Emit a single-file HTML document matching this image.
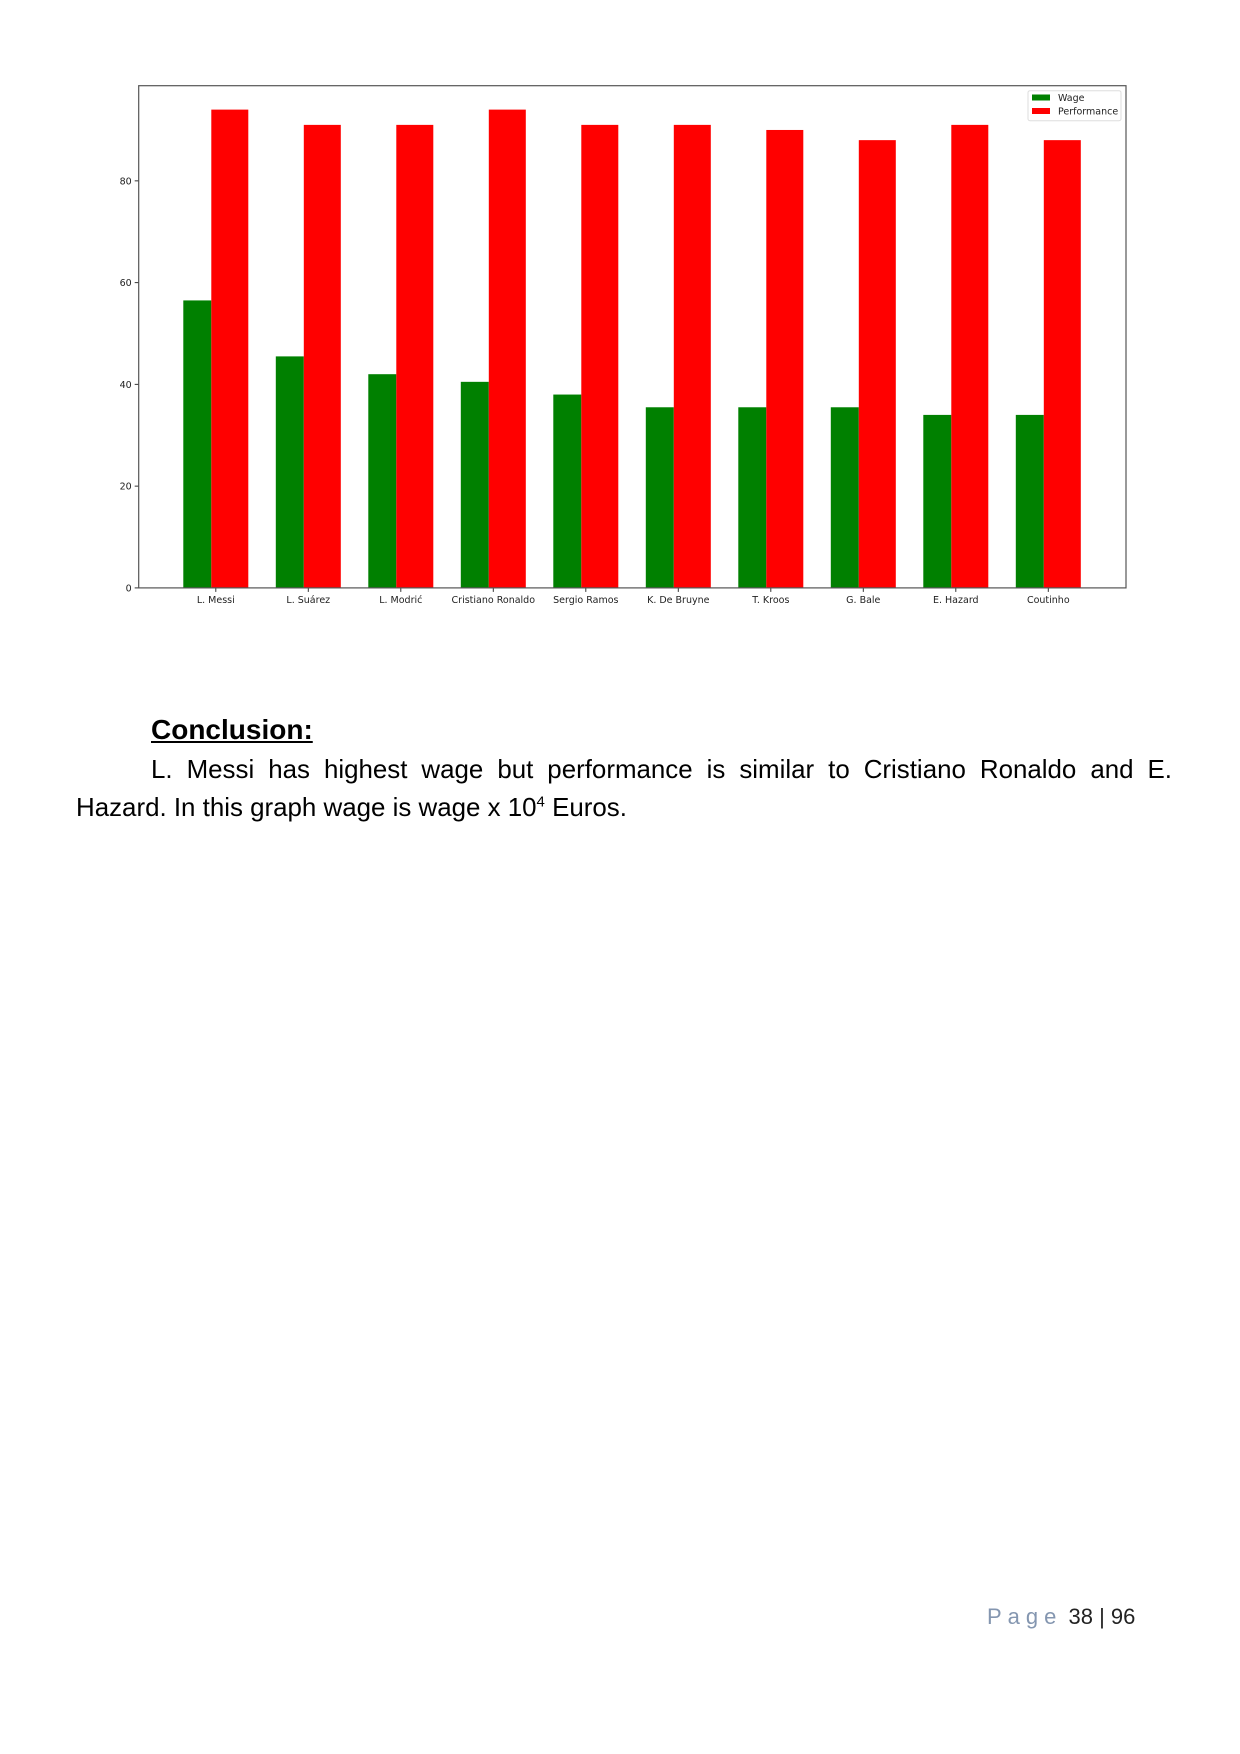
<!DOCTYPE html>
<html><head><meta charset="utf-8"><style>
html,body{margin:0;padding:0;background:#fff;}
body{width:1240px;height:1754px;position:relative;overflow:hidden;font-family:"Liberation Sans",sans-serif;}
#chart{position:absolute;left:0;top:0;}
.h{position:absolute;left:151px;top:714px;font-size:28px;font-weight:bold;text-decoration:underline;color:#000;margin:0;}
.p{position:absolute;left:76px;top:751px;width:1096px;font-size:25.9px;line-height:38px;color:#000;text-align:justify;text-indent:75px;margin:0;}
.pg{position:absolute;left:987px;top:1604px;font-size:22px;color:#222;}
.pg span{color:#8496b0;letter-spacing:6px;}
</style></head><body>
<svg id="chart" width="1240" height="640" xmlns="http://www.w3.org/2000/svg"></svg>
<h2 class="h">Conclusion:</h2>
<p class="p">L. Messi has highest wage but performance is similar to Cristiano Ronaldo and E. Hazard. In this graph wage is wage x 10<sup style="font-size:15px;line-height:0">4</sup> Euros.</p>
<div class="pg"><span>Page</span> 38 | 96</div>
<script>
const categories=["L. Messi","L. Suárez","L. Modrić","Cristiano Ronaldo","Sergio Ramos","K. De Bruyne","T. Kroos","G. Bale","E. Hazard","Coutinho"];
const wageValues=[56.5,45.5,42,40.5,38,35.5,35.5,35.5,34,34];
const performanceValues=[94,91,91,94,91,91,90,88,91,88];
const yTicks=[0,20,40,60,80];
const NS="http://www.w3.org/2000/svg";
const svg=document.getElementById('chart');
const L=138.7,R=1126,T=85.7,B=587.9,yMax=98.7;
const y=v=>B-(v/yMax)*(B-T);
const step=92.5,x0=211.3;
const x=i=>x0+i*step;
const gw=28,rw=37;
function mk(t,a){const e=document.createElementNS(NS,t);for(const k in a)e.setAttribute(k,a[k]);svg.appendChild(e);return e;}
categories.forEach((c,i)=>{
  const g=mk('rect',{x:x(i)-gw,y:y(wageValues[i]),width:gw,height:B-y(wageValues[i]),fill:'#008000'});
  
  
  const r=mk('rect',{x:x(i),y:y(performanceValues[i]),width:rw,height:B-y(performanceValues[i]),fill:'#ff0000'});
  
  
  const tx=x(i)+4.5;
  mk('line',{x1:tx,x2:tx,y1:B,y2:B+4,stroke:'#333','stroke-width':1});
  const t=mk('text',{x:tx,y:B+15,'text-anchor':'middle','font-size':9.5,fill:'#222','font-family':'DejaVu Sans, sans-serif'});
  t.textContent=c;
  
  
});
yTicks.forEach(v=>{
  mk('line',{x1:L-4,x2:L,y1:y(v),y2:y(v),stroke:'#333','stroke-width':1});
  const t=mk('text',{x:L-7,y:y(v)+3.5,'text-anchor':'end','font-size':9.5,fill:'#222','font-family':'DejaVu Sans, sans-serif'});
  t.textContent=v;
  
  
});
const frame=mk('rect',{x:L,y:T,width:R-L,height:B-T,fill:'none',stroke:'#555','stroke-width':1.2});


const lg=mk('rect',{x:1028,y:90.7,width:93,height:30,fill:'#fff',stroke:'#ddd','stroke-width':1,rx:2});


mk('rect',{x:1032,y:94.5,width:18,height:6,fill:'#008000'});
mk('rect',{x:1032,y:108,width:18,height:6,fill:'#ff0000'});
const l1=mk('text',{x:1058,y:101,'font-size':9.5,fill:'#222','font-family':'DejaVu Sans, sans-serif'});l1.textContent='Wage';


const l2=mk('text',{x:1058,y:114.5,'font-size':9.5,fill:'#222','font-family':'DejaVu Sans, sans-serif'});l2.textContent='Performance';


</script>
</body></html>
